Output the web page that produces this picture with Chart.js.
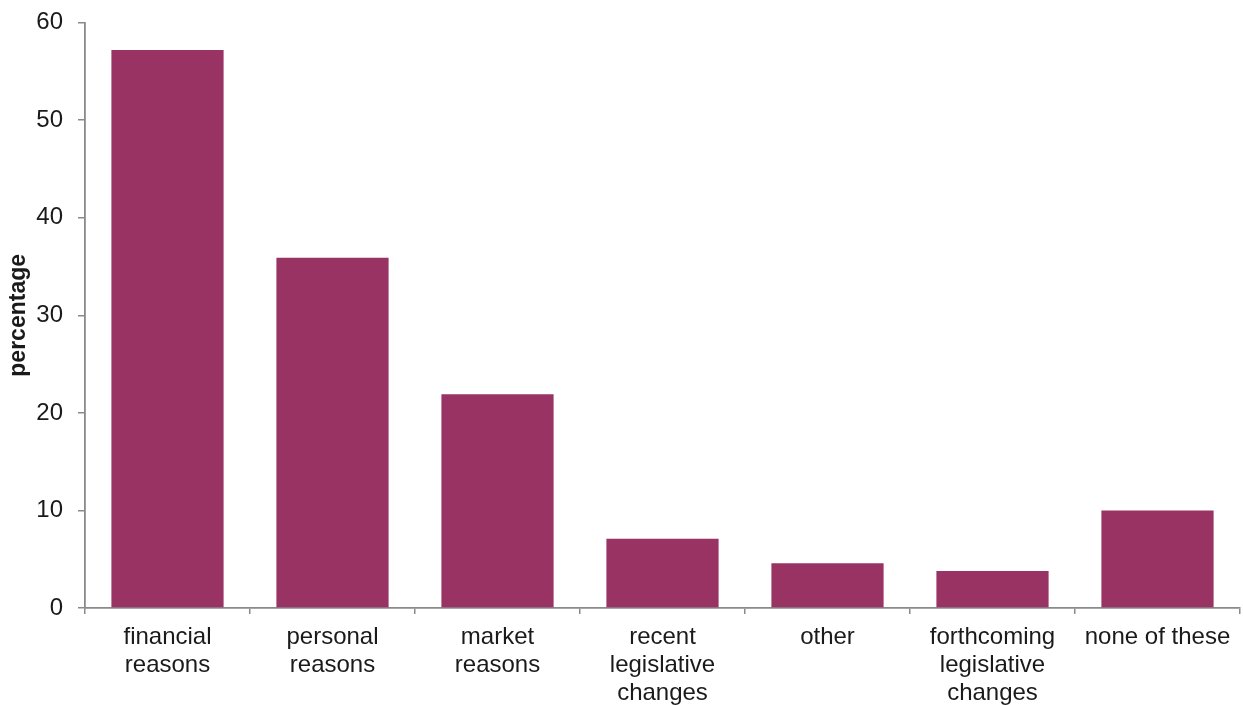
<!DOCTYPE html>
<html>
<head>
<meta charset="utf-8">
<script src="https://cdn.jsdelivr.net/npm/chart.js@4.4.1/dist/chart.umd.min.js"></script>
<style>
  html, body { margin: 0; padding: 0; background: #fff; }
  #wrap { position: relative; width: 1243px; height: 705px; }
</style>
</head>
<body>
<div id="wrap"><canvas id="c" width="1243" height="705"></canvas></div>
<script>
const categories = [
  ["financial", "reasons"],
  ["personal", "reasons"],
  ["market", "reasons"],
  ["recent", "legislative", "changes"],
  ["other"],
  ["forthcoming", "legislative", "changes"],
  ["none of these"]
];
const percentages = [57.2, 35.9, 21.9, 7.1, 4.6, 3.8, 10.0];
const yTicks = [0, 10, 20, 30, 40, 50, 60];
const yTitle = "percentage";

const FONT = "'Liberation Sans', Arial, sans-serif";
const AXIS = "#8a8a8a";

new Chart(document.getElementById('c'), {
  type: 'bar',
  data: {
    labels: categories,
    datasets: [{
      data: percentages,
      backgroundColor: '#983363',
      borderWidth: 0,
      barPercentage: 0.68,
      categoryPercentage: 1.0
    }]
  },
  options: {
    responsive: false,
    animation: false,
    devicePixelRatio: 1,
    layout: { padding: { top: 22.7, right: 3, left: 0, bottom: 0 } },
    plugins: { legend: { display: false }, tooltip: { enabled: false } },
    scales: {
      x: {
        offset: true,
        grid: { display: true, drawOnChartArea: false, offset: true, color: AXIS, lineWidth: 1.5, tickLength: 6 },
        border: { display: true, color: AXIS, width: 1.8 },
        ticks: { color: '#1a1a1a', font: { family: FONT, size: 24, lineHeight: 1.15 }, padding: 10, maxRotation: 0, autoSkip: false },
        afterFit: (s) => { s.height = 97; s.paddingLeft = 0; s.paddingRight = 0; }
      },
      y: {
        min: 0, max: 60,
        afterBuildTicks: (s) => { s.ticks = yTicks.map(v => ({ value: v })); },
        grid: { display: true, drawOnChartArea: false, color: AXIS, lineWidth: 1.5, tickLength: 7 },
        border: { display: true, color: AXIS, width: 1.8 },
        ticks: { color: '#1a1a1a', font: { family: FONT, size: 24 }, padding: 15 },
        title: { display: true, text: yTitle, color: '#1a1a1a', font: { family: FONT, size: 23, weight: 'bold' }, padding: { top: 5, bottom: 0 } },
        afterFit: (s) => { s.width = 85; s.paddingTop = 0; s.paddingBottom = 0; }
      }
    }
  }
});
</script>
</body>
</html>
